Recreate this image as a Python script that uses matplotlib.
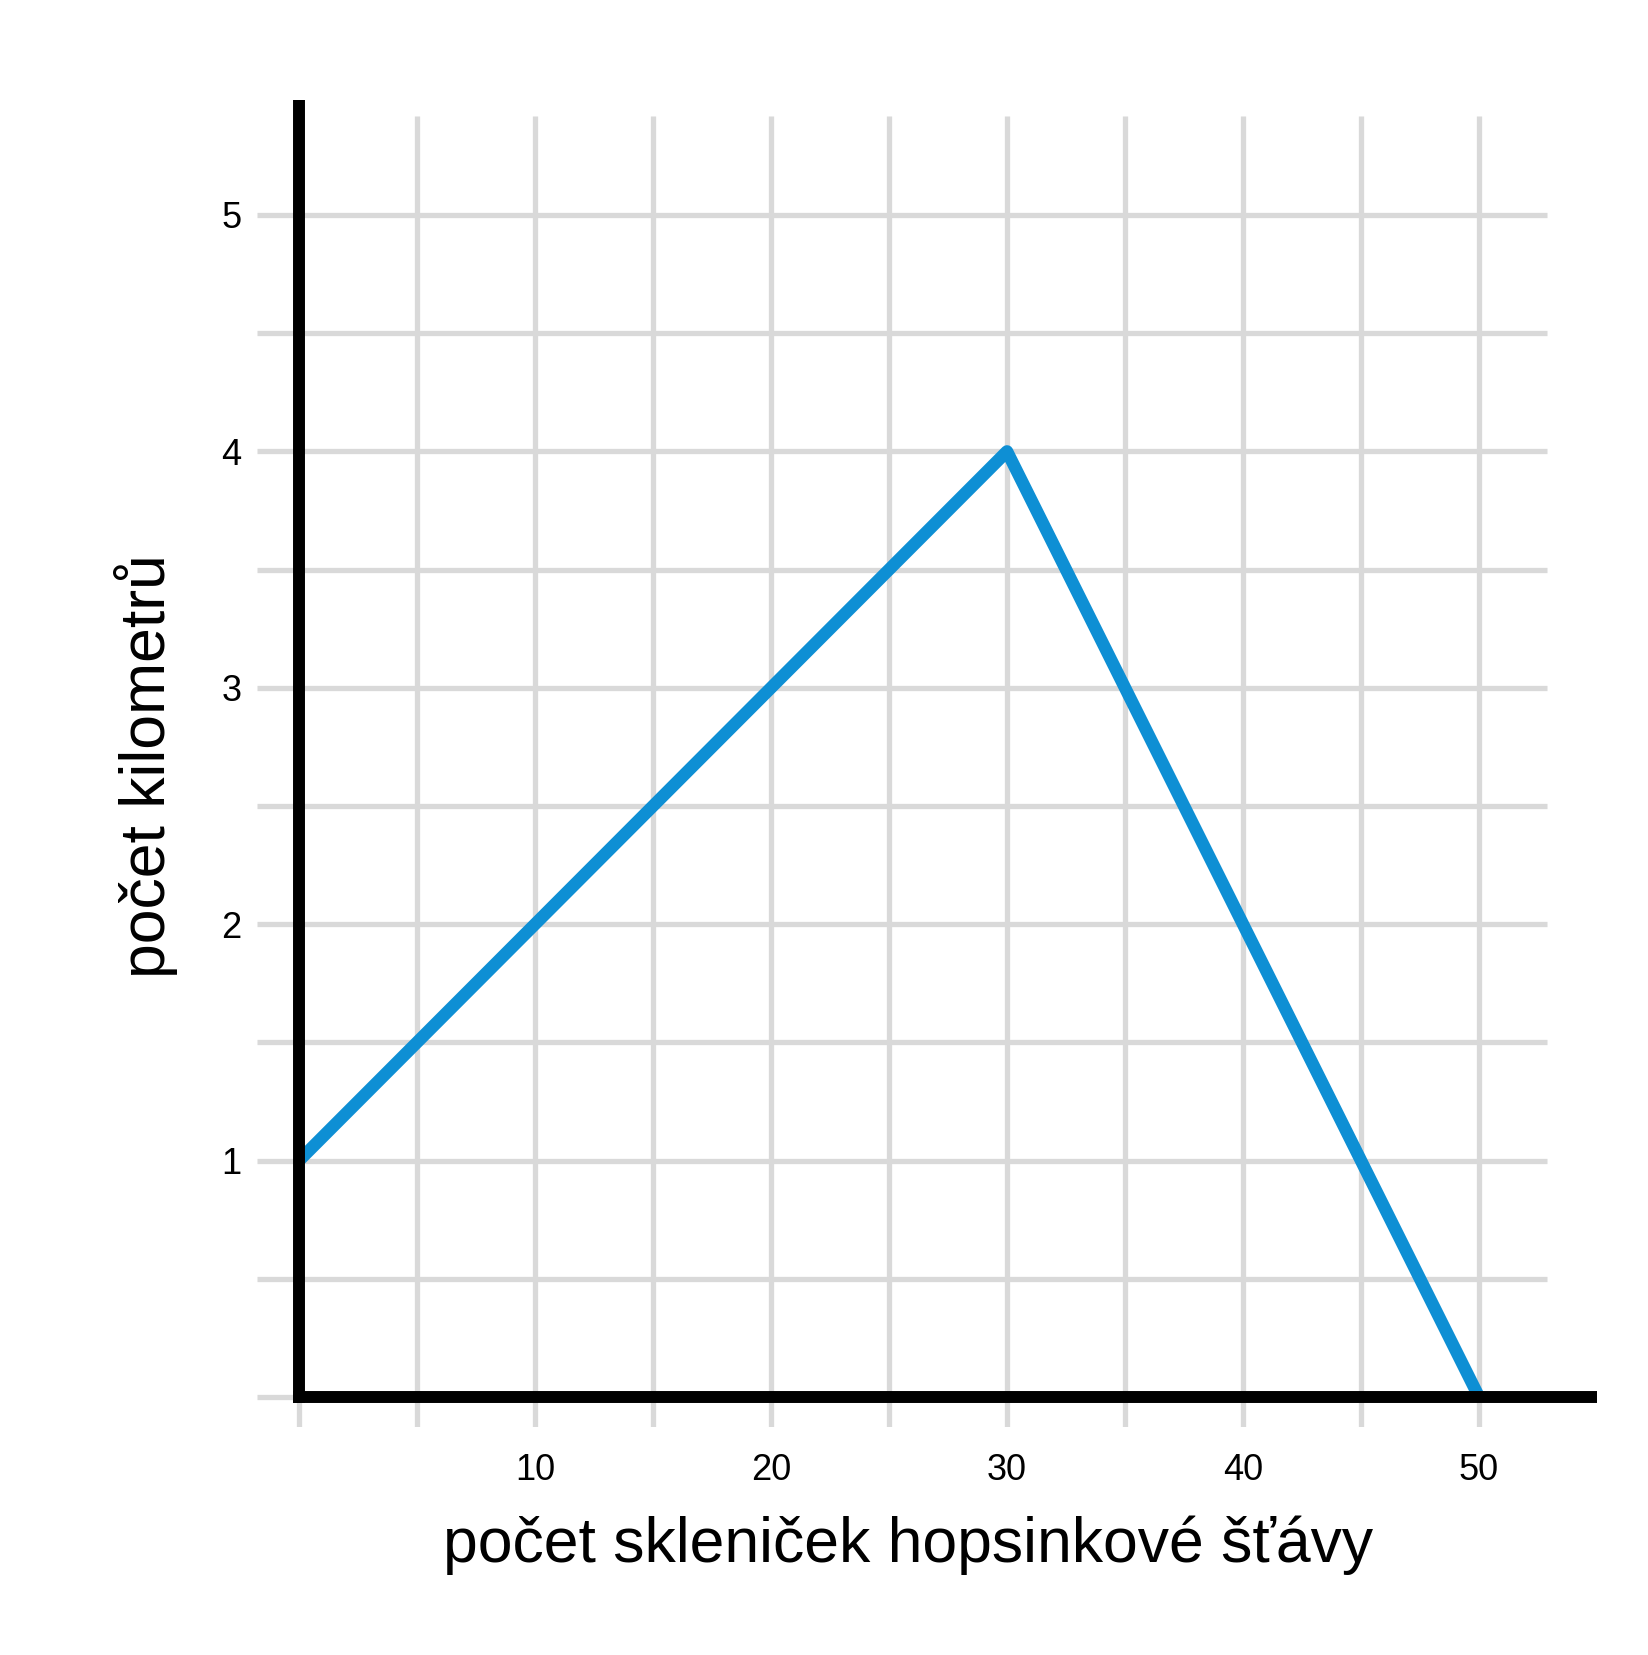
import numpy as np
from matplotlib import pyplot as plt

# data
x_vals = [0, 30, 50]
y_vals = [1, 4, 0]

x_grid = [0, 5, 10, 15, 20, 25, 30, 35, 40, 45, 50]
y_grid = [0, 0.5, 1, 1.5, 2, 2.5, 3, 3.5, 4, 4.5, 5]
x_ticks = [10, 20, 30, 40, 50]
y_ticks = [1, 2, 3, 4, 5]

x_label = "počet skleniček hopsinkové šťávy"
y_label = "počet kilometrů"

W, H = 1648, 1655
plt.rcParams['font.family'] = ['Liberation Sans', 'DejaVu Sans']

fig = plt.figure(figsize=(W / 100, H / 100), dpi=100)
# axes placed in pixels
left, right, top, bottom = 257, 1600, 100, 1427
ax = fig.add_axes([left / W, (H - bottom) / H, (right - left) / W, (bottom - top) / H])

x0, y0 = 299, 1397
ux, uy = 23.6, 236.4
ax.set_xlim((left - x0) / ux, (right - x0) / ux)
ax.set_ylim((y0 - bottom) / uy, (y0 - top) / uy)

grey = '#d9d9d9'
ax.vlines(x_grid, (y0 - bottom) / uy, 5.42, color=grey, lw=3.8, zorder=1)
ax.hlines(y_grid, (left - x0) / ux, 52.9, color=grey, lw=3.8, zorder=1)

ax.plot(x_vals, y_vals, color='#0e8fd4', lw=9, solid_capstyle='butt', zorder=3)

# axis lines
ax.plot([0, 0], [-0.025, (y0 - top) / uy], color='black', lw=8.6,
        solid_capstyle='butt', clip_on=False, zorder=4)
ax.plot([-0.25, 55.0], [0, 0], color='black', lw=8.6,
        solid_capstyle='butt', clip_on=False, zorder=4)

for s in ax.spines.values():
    s.set_visible(False)
ax.set_facecolor('none')
ax.set_xticks(x_ticks)
ax.set_yticks(y_ticks)
ax.tick_params(axis='both', length=0, labelsize=26)
ax.tick_params(axis='x', pad=19)
ax.tick_params(axis='y', pad=11)

fig.text(908 / W, 1 - 1545 / H, x_label, fontsize=45, ha='center', va='center')
fig.text(146 / W, 1 - 766 / H, y_label, fontsize=45, ha='center', va='center',
         rotation=90)

fig.savefig('out.png', dpi=100)
